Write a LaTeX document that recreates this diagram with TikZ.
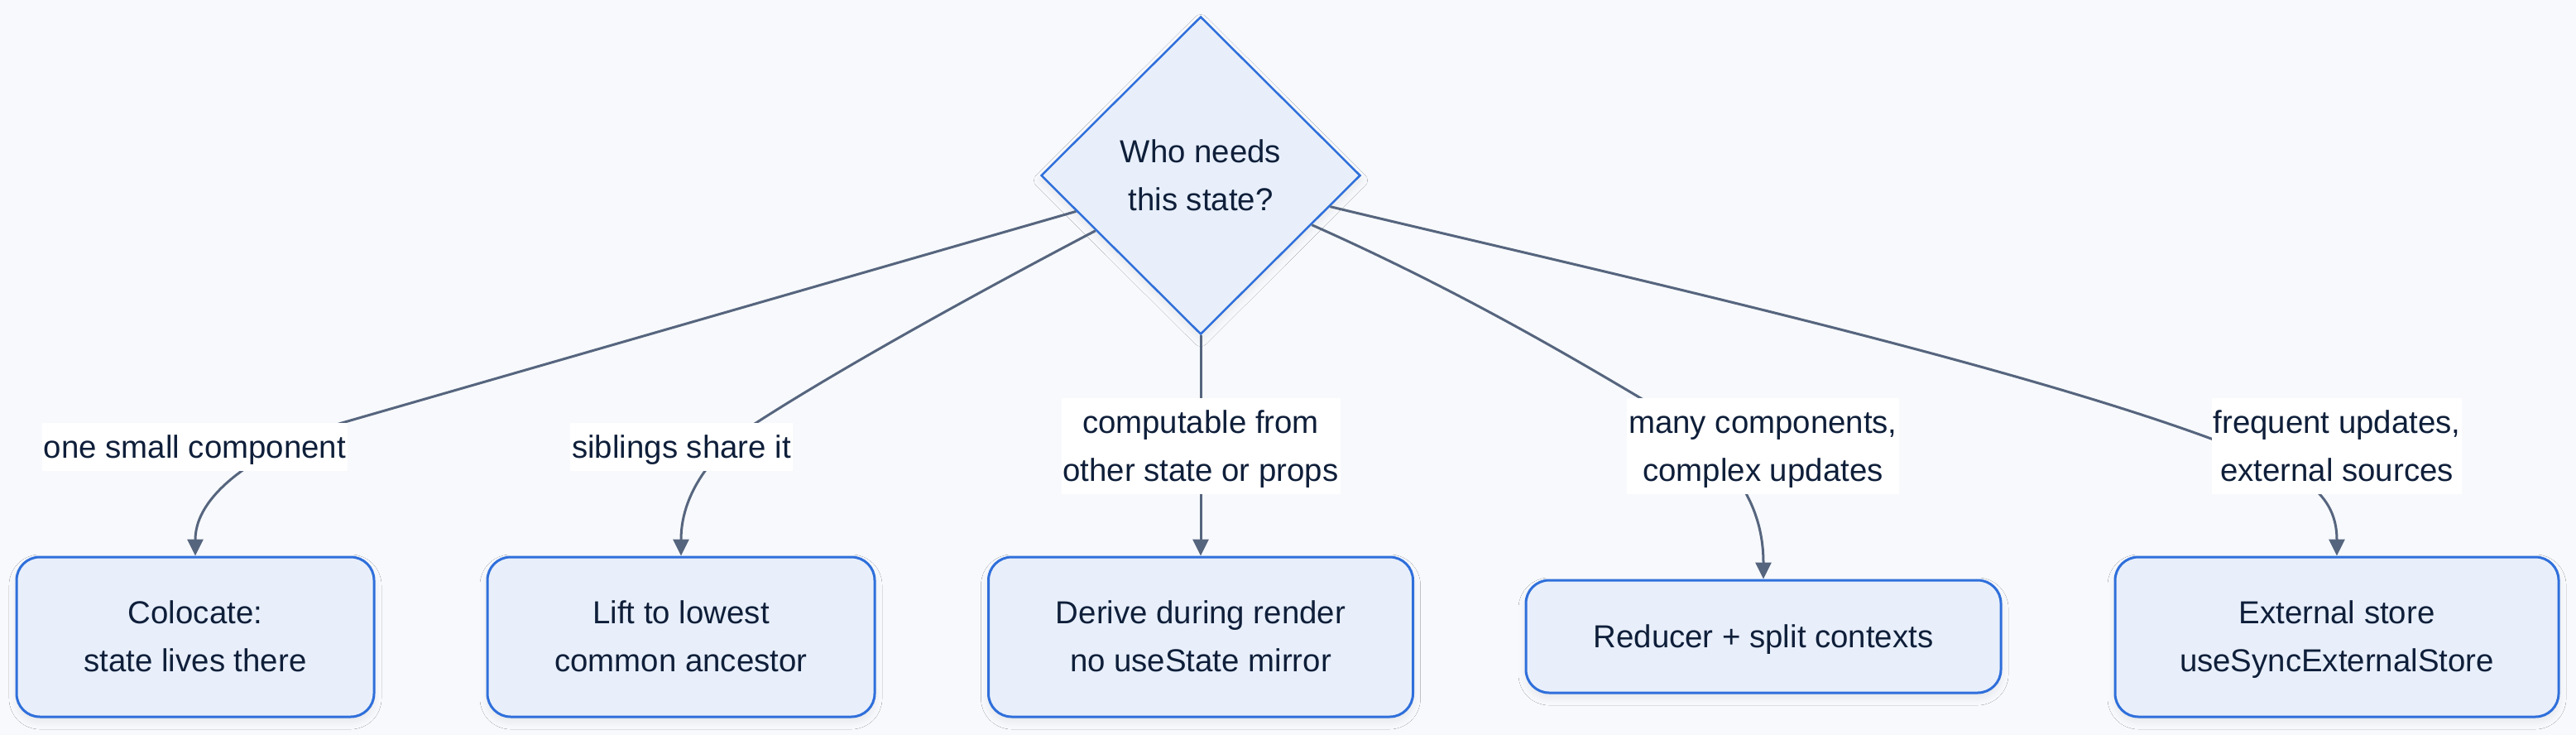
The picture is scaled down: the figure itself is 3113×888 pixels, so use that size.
\documentclass[tikz,border=0pt]{standalone}
\usepackage{fontspec}
\setmainfont{Liberation Sans}
\usetikzlibrary{shapes.geometric,arrows.meta,shadows.blur}
\definecolor{bgc}{HTML}{F7F9FC}
\definecolor{boxfill}{HTML}{E8EFFA}
\definecolor{boxline}{HTML}{2F6FDB}
\definecolor{edgec}{HTML}{56657E}
\definecolor{txt}{HTML}{0F1F3A}
\newcommand{\lst}{\rule[-15.6pt]{0pt}{57.6pt}}
\begin{document}
\begin{tikzpicture}[x=1pt,y=-1pt,
 every node/.style={text=txt, font=\fontsize{38.4pt}{57.6pt}\selectfont, align=center},
 softshadow/.style={blur shadow={shadow xshift=0pt, shadow yshift=-6pt, shadow blur radius=9pt, shadow opacity=7}},
 decision/.style={diamond, draw=boxline, line width=2.5pt, fill=boxfill, minimum width=386pt, minimum height=384pt, inner sep=0pt, aspect=1, softshadow},
 outcome/.style={rectangle, rounded corners=28pt, draw=boxline, line width=3pt, fill=boxfill, inner sep=0pt, minimum height=193pt, softshadow},
 lbl/.style={fill=white, inner xsep=2pt, inner ysep=0pt},
 edge/.style={draw=edgec, line width=3pt, -{Triangle[length=20pt,width=19pt]}}
]
\fill[bgc] (0,0) rectangle (3113,888);
\useasboundingbox (0,0) rectangle (3113,888);

\node[decision] (d) at (1451,212) {\lst Who needs\\\lst this state?};
\node[outcome, minimum width=432pt] (b1) at (236,769.5) {\lst Colocate:\\\lst state lives there};
\node[outcome, minimum width=468pt] (b2) at (823,769.5) {\lst Lift to lowest\\\lst common ancestor};
\node[outcome, minimum width=513pt] (b3) at (1451,769.5) {\lst Derive during render\\\lst no useState mirror};
\node[outcome, minimum width=574pt, minimum height=136pt] (b4) at (2131,769) {\lst Reducer + split contexts};
\node[outcome, minimum width=536pt] (b5) at (2824,769.5) {\lst External store\\\lst useSyncExternalStore};

\coordinate (q1) at (413,511);
\coordinate (q2) at (912,512);
\coordinate (q4) at (1986,483);
\coordinate (q5) at (2672,530);

\draw[edge] (d) -- (q1) .. controls (330,537) and (236,590) .. (b1.north);
\draw[edge] (d) .. controls (1150,370) and (1000,455) .. (q2) .. controls (870,540) and (823,590) .. (b2.north);
\draw[edge] (d) -- (b3);
\draw[edge] (d) .. controls (1750,345) and (1880,420) .. (q4) .. controls (2070,533) and (2131,590) .. (b4.north);
\draw[edge] (d) .. controls (1900,320) and (2400,430) .. (q5) .. controls (2770,565) and (2824,590) .. (b5.north);

\node[lbl] (l1) at (235.5,540) {\lst one small component};
\node[lbl] (l2) at (823.5,540) {\lst siblings share it};
\node[lbl] (l3) at (1451,539) {\lst computable from\\\lst other state or props};
\node[lbl] (l4) at (2130.5,539) {\lst many components,\\\lst complex updates};
\node[lbl] (l5) at (2824,539) {\lst frequent updates,\\\lst external sources};
\end{tikzpicture}
\end{document}
